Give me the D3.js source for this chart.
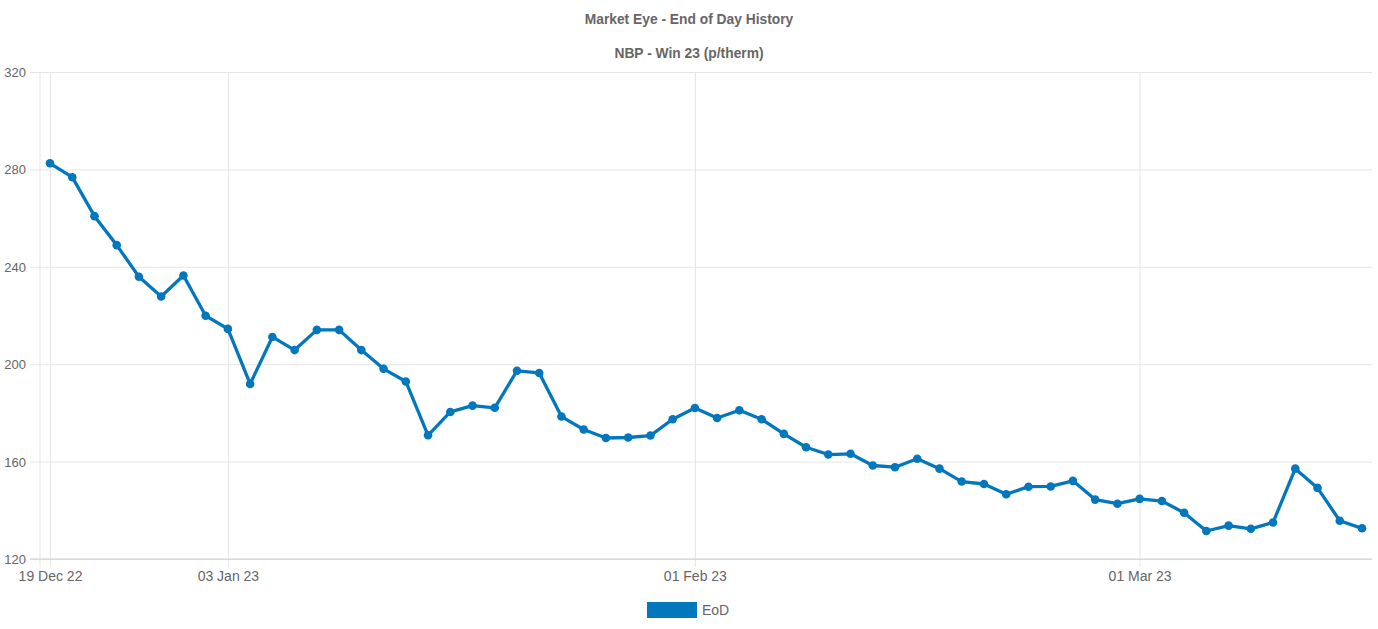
<!DOCTYPE html>
<html lang="en">
<head>
<meta charset="UTF-8">
<title>Market Eye - End of Day History</title>
<style>
  body { margin: 0; background: #fff; font-family: "Liberation Sans", Arial, sans-serif; }
  .grid line { stroke: #e5e5e5; stroke-width: 1px; }
  .axis text { fill: #666; font-size: 13px; }
  .axis.xa text { font-size: 14px; }
  .title { fill: #666; font-size: 13.8px; font-weight: bold; }
</style>
</head>
<body>
<svg width="1378" height="629"></svg>
<script src="https://d3js.org/d3.v7.min.js"></script>
<script>
// trading days, 19 Dec 22 - 15 Mar 23
const dates = [
  "2022-12-19","2022-12-20","2022-12-21","2022-12-22","2022-12-23","2022-12-28","2022-12-29","2022-12-30",
  "2023-01-03","2023-01-04","2023-01-05","2023-01-06","2023-01-09","2023-01-10","2023-01-11","2023-01-12",
  "2023-01-13","2023-01-16","2023-01-17","2023-01-18","2023-01-19","2023-01-20","2023-01-23","2023-01-24",
  "2023-01-25","2023-01-26","2023-01-27","2023-01-30","2023-01-31",
  "2023-02-01","2023-02-02","2023-02-03","2023-02-06","2023-02-07","2023-02-08","2023-02-09","2023-02-10",
  "2023-02-13","2023-02-14","2023-02-15","2023-02-16","2023-02-17","2023-02-20","2023-02-21","2023-02-22",
  "2023-02-23","2023-02-24","2023-02-27","2023-02-28",
  "2023-03-01","2023-03-02","2023-03-03","2023-03-06","2023-03-07","2023-03-08","2023-03-09","2023-03-10",
  "2023-03-13","2023-03-14","2023-03-15"
];
const eod = [
  282.5, 276.8, 260.8, 248.9, 235.9, 227.8, 236.4, 219.9,
  214.5, 191.9, 211.2, 205.8, 214.1, 214.1, 205.8, 198.1,
  192.9, 170.8, 180.4, 183.0, 182.1, 197.3, 196.4, 178.5,
  173.2, 169.7, 169.9, 170.7, 177.4,
  182.0, 177.9, 181.1, 177.4, 171.4, 165.9, 162.9, 163.2,
  158.4, 157.7, 161.2, 157.1, 151.8, 150.8, 146.6, 149.7,
  149.8, 152.1, 144.4, 142.7,
  144.7, 143.8, 139.0, 131.5, 133.7, 132.4, 135.0, 157.1,
  149.2, 135.7, 132.6
];
const xTicks = ["2022-12-19", "2023-01-03", "2023-02-01", "2023-03-01"];
const yTicks = [120, 160, 200, 240, 280, 320];
const seriesName = "EoD";
const titleLines = ["Market Eye - End of Day History", "NBP - Win 23 (p/therm)"];

const color = "#0277bd";
const plotLeft = 40, plotRight = 1372, plotTop = 72, plotBottom = 559;

const svg = d3.select("svg");
const parse = d3.timeParse("%Y-%m-%d");
const fmt = d3.timeFormat("%d %b %y");

const x = d3.scalePoint().domain(dates).range([plotLeft, plotRight]).padding(0.45);
const y = d3.scaleLinear().domain([120, 320]).range([plotBottom, plotTop]);

// titles
svg.selectAll(".title")
  .data(titleLines)
  .enter().append("text")
  .attr("class", "title")
  .attr("x", 689)
  .attr("y", (d, i) => 24 + i * 34)
  .attr("text-anchor", "middle")
  .text(d => d);

// horizontal grid + y axis
const yAxis = svg.append("g")
  .attr("class", "axis grid")
  .attr("transform", `translate(${plotLeft},0)`)
  .call(d3.axisLeft(y).tickValues(yTicks).tickSize(-(plotRight - plotLeft)).tickSizeOuter(0).tickPadding(14));
yAxis.select(".domain").remove();
yAxis.selectAll(".tick line").attr("x1", -10);
yAxis.selectAll(".tick text").attr("dy", "0.35em");

// vertical grid + x axis
const xAxis = svg.append("g")
  .attr("class", "axis grid xa")
  .attr("transform", `translate(0,${plotBottom})`)
  .call(d3.axisBottom(x).tickValues(xTicks).tickSize(-(plotBottom - plotTop)).tickSizeOuter(0).tickPadding(12)
    .tickFormat(d => fmt(parse(d))));
xAxis.select(".domain").remove();
xAxis.selectAll(".tick line").attr("y1", 8);

// left axis line
svg.append("line")
  .attr("x1", plotLeft).attr("x2", plotLeft).attr("y1", plotTop).attr("y2", plotBottom + 8)
  .attr("stroke", "#e5e5e5");
// bottom axis line
svg.append("line")
  .attr("x1", plotLeft - 10).attr("x2", plotRight).attr("y1", y(120)).attr("y2", y(120))
  .attr("stroke", "#d0d0d0");

// line
const line = d3.line()
  .x((d, i) => x(dates[i]))
  .y(d => y(d));

svg.append("path")
  .datum(eod)
  .attr("fill", "none")
  .attr("stroke", color)
  .attr("stroke-width", 3.3)
  .attr("stroke-linejoin", "round")
  .attr("d", line);

svg.selectAll(".pt")
  .data(eod)
  .enter().append("circle")
  .attr("class", "pt")
  .attr("cx", (d, i) => x(dates[i]))
  .attr("cy", d => y(d))
  .attr("r", 4.3)
  .attr("fill", color);

// legend
const lg = svg.append("g").attr("transform", "translate(647,602)");
lg.append("rect").attr("width", 50).attr("height", 16).attr("fill", color);
lg.append("text")
  .attr("x", 55).attr("y", 8).attr("dy", "0.35em")
  .attr("fill", "#666").style("font-size", "14px")
  .text(seriesName);
</script>
</body>
</html>
